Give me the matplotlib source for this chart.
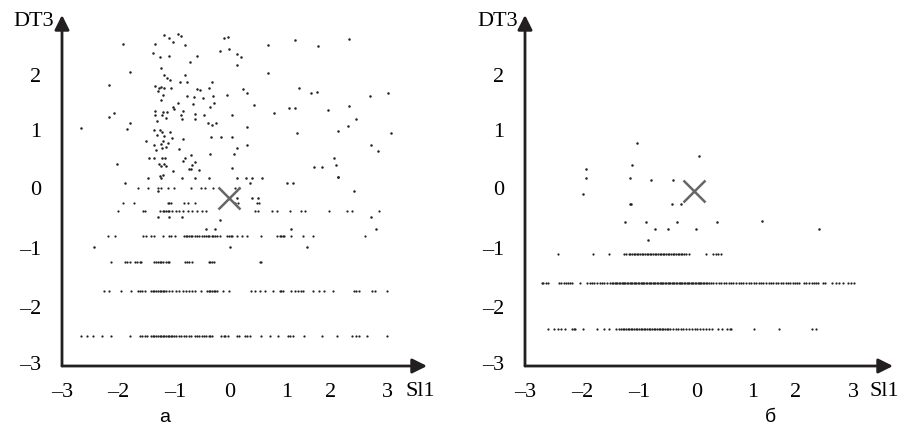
import matplotlib.pyplot as plt

# --- panel a: horizontal rows of points (DT3 level -> Sl1 values) ---
a_row_levels = [-2.48, -1.71, -1.21, -0.76, -0.33, -0.19, 0.07]
a_row_x = [
    [-2.72, -2.61, -2.50, -2.33, -2.15, -1.81, -1.62, -1.57, -1.53, -1.49, -1.41, -1.38,
     -1.35, -1.31, -1.28, -1.25, -1.22, -1.19, -1.16, -1.13, -1.10, -1.07, -1.04, -1.01,
     -0.98, -0.95, -0.88, -0.85, -0.79, -0.76, -0.70, -0.67, -0.59, -0.56, -0.52, -0.45,
     -0.42, -0.38, -0.33, -0.30, -0.27, -0.10, -0.05, -0.02, 0.03, 0.19, 0.24, 0.35,
     0.38, 0.44, 0.65, 0.81, 0.96, 1.15, 1.18, 1.24, 1.45, 1.79, 2.07, 2.34, 2.42, 2.47,
     2.62, 2.99],
    [-2.29, -2.19, -1.96, -1.78, -1.65, -1.61, -1.57, -1.53, -1.41, -1.38, -1.35, -1.31,
     -1.28, -1.25, -1.22, -1.19, -1.16, -1.13, -1.07, -1.01, -0.95, -0.88, -0.82, -0.76,
     -0.70, -0.64, -0.58, -0.48, -0.36, -0.33, -0.30, -0.27, -0.24, -0.21, -0.18, -0.06,
     0.04, 0.46, 0.53, 0.62, 0.71, 0.87, 0.99, 1.02, 1.05, 1.21, 1.27, 1.33, 1.39, 1.42,
     1.61, 1.73, 1.82, 1.98, 2.38, 2.42, 2.47, 2.71, 2.77, 2.99],
    [-2.15, -1.90, -1.86, -1.81, -1.71, -1.68, -1.62, -1.59, -1.35, -1.31, -1.28, -1.25,
     -1.22, -1.19, -1.13, -1.10, -1.07, -0.77, -0.73, -0.70, -0.65, -0.33, -0.30, -0.27,
     -0.24, 0.62, 0.65],
    [-2.21, -2.08, -1.56, -1.50, -1.41, -1.35, -1.19, -1.07, -1.04, -0.96, -0.79, -0.76,
     -0.73, -0.70, -0.67, -0.64, -0.59, -0.56, -0.52, -0.45, -0.42, -0.38, -0.34, -0.32,
     -0.28, -0.26, -0.22, -0.18, -0.12, 0.01, 0.04, 0.08, 0.10, 0.19, 0.28, 0.38, 0.65,
     0.95, 0.99, 1.02, 1.05, 1.08, 1.21, 1.42, 1.61, 2.59],
    [-2.02, -1.56, -1.53, -1.25, -1.19, -1.16, -1.13, -1.10, -1.07, -1.01, -0.95, -0.88,
     -0.82, -0.71, -0.64, -0.55, -0.45, -0.38, 0.54, 0.59, 0.85, 0.95, 1.18, 1.38, 1.47,
     1.91, 2.25, 2.34, 2.85],
    [-1.94, -1.73, -1.10, -1.07, -1.04, -0.79, -0.71, -0.59, 0.16, 0.22, 0.56, 0.60],
    [-1.65, -1.47, -1.28, -1.22, -1.09, -0.98, -0.67, -0.47, -0.40, -0.26, 0.16, 0.24],
]

# --- panel a: scattered points ---
a_x = [-2.47, 0.07, 1.50, -0.39, -0.21, 1.21, 2.79, -0.13, -1.28, -1.07, -0.84, 2.70,
       0.19, 0.48, 0.58, -1.28, 2.38, -1.89, 0.44, 1.13, 1.24,
       -1.47, -1.22, -0.84, -0.59, -0.33, 0.19, 0.36, 0.48, 0.67, 2.08,
       -2.72, -2.20, -2.20, -2.10, -1.94, -1.80, -1.81, -1.86, -2.04, -1.51,
       -1.38, -1.34, -1.24, -1.23, -1.16, -1.16, -1.12, -1.07, -1.07, -1.05, -1.00, -0.90,
       -0.85, -0.78, -0.69, -0.55, -0.86, -0.78, -0.73, -0.27, -1.34, -1.26, -1.22, -1.17,
       -1.28, -1.19, -1.22, -1.03, -0.90, -0.73, -0.61, -0.56, -0.50, -0.43, -0.32, -0.26,
       -0.24, -0.30, -0.63, -1.00, -0.98, -0.81, -0.85, -0.84, -1.34, -1.19, -1.12, -1.33,
       -1.20, -1.13, -1.30, -0.59, -0.58, -0.42, -0.34, -0.28, -0.20, 0.10, 0.01, -1.35,
       -1.24, -1.21, -1.06, -1.29, -1.16, -1.18, -1.01, -1.09, -1.23, -1.35, -1.31, -1.20,
       -1.13, -0.89, -0.81, -0.29, -0.10, 0.10, 0.38, 0.38, 0.19, 0.13, -0.31, -0.66, -0.78,
       -0.81, -0.59, -0.64, -0.70, -0.66, -0.51, -1.00, -1.45, -1.36, -1.20, -1.14, -1.26,
       -1.16, -1.22, -1.13, -1.19, -1.24, 0.10, 0.19, 0.27, 0.19, -0.12, -0.05, 0.03, 0.05,
       0.31, 0.39, 0.52, 0.78, 0.78, 0.89, 1.28, 1.35, 1.16, 1.28, 1.32, 1.58, 1.69, 1.70,
       1.89, 2.28, 2.28, 2.26, 2.08, 2.42, 2.68, 3.02, 3.06, 2.69, 2.82, 2.01, 2.04, 1.64,
       1.79, 2.08]
a_y = [-0.95, -0.95, -0.95, -0.64, -0.64, -0.64, -0.64, -0.48, -0.43, -0.43, -0.43, -0.43,
       -0.10, -0.10, -0.10, 0.02, 0.02, 0.16, 0.16, 0.16, 0.16,
       0.24, 0.24, 0.24, 0.24, 0.24, 0.24, 0.24, 0.24, 0.24, 0.26,
       1.10, 1.85, 1.30, 1.36, 2.55, 2.07, 1.18, 1.08, 0.48, 0.88,
       2.39, 2.55, 2.33, 2.13, 2.70, 2.01, 1.97, 2.66, 2.34, 1.93, 2.59, 2.73,
       2.69, 2.53, 2.24, 2.34, 1.90, 2.01, 1.89, 1.90, 1.83, 1.79, 1.81, 1.79,
       1.74, 1.67, 1.58, 1.79, 1.54, 1.66, 1.64, 1.77, 1.76, 1.62, 1.79, 1.66,
       1.53, 1.46, 1.51, 1.47, 1.43, 1.40, 1.33, 1.25, 1.39, 1.38, 1.38, 1.32,
       1.32, 1.27, 1.22, 1.34, 1.25, 1.32, 1.18, 1.16, 1.18, 1.32, 1.67, 1.06,
       1.06, 1.04, 1.04, 0.99, 0.97, 0.88, 0.93, 0.85, 0.82, 0.81, 0.72, 0.76,
       0.78, 0.74, 0.91, 0.94, 0.94, 0.94, 1.12, 0.81, 0.76, 0.65, 0.65, 0.64, 0.59,
       0.53, 0.51, 0.47, 0.39, 0.39, 0.37, 0.36, 0.58, 0.58, 0.58, 0.58, 0.49,
       0.49, 0.45, 0.45, 0.29, 0.28, 0.42, 2.37, 2.32, 2.18, 2.43, 2.66, 2.67, 2.46,
       1.77, 1.70, 1.50, 2.53, 2.05, 1.36, 2.62, 1.80, 1.44, 1.45, 1.01, 1.70, 1.73, 2.52,
       1.41, 2.63, 1.48, 1.14, 1.05, 1.26, 1.66, 1.71, 1.02, 0.81, 0.71, 0.58, 0.47, 0.43,
       0.43, 0.26]

# --- panel b: horizontal rows ---
b_row_levels = [-2.37, -1.57, -1.07]
b_row_x = [
    [-2.63, -2.52, -2.44, -2.39, -2.32, -2.18, -2.15, -2.12, -1.98, -1.73, -1.59, -1.51,
     -1.37, -1.31, -1.28, -1.25, -1.22, -1.19, -1.16, -1.13, -1.10, -1.07, -1.04, -1.01,
     -0.98, -0.95, -0.92, -0.89, -0.86, -0.83, -0.80, -0.77, -0.74, -0.71, -0.68, -0.65,
     -0.62, -0.59, -0.56, -0.53, -0.50, -0.47, -0.44, -0.41, -0.38, -0.32, -0.27, -0.23,
     -0.18, -0.14, -0.09, -0.03, 0.03, 0.08, 0.12, 0.17, 0.23, 0.29, 0.34, 0.40, 0.50,
     0.58, 0.67, 0.73, 0.75, 1.17, 1.63, 2.23, 2.31],
    [-2.74, -2.71, -2.66, -2.62, -2.42, -2.39, -2.34, -2.30, -2.26, -2.22, -2.18, -2.04,
     -1.90, -1.85, -1.81, -1.77, -1.72, -1.67, -1.63, -1.59, -1.54, -1.49,
     -1.45, -1.42, -1.40, -1.37, -1.35, -1.32, -1.30, -1.27, -1.25, -1.22, -1.20, -1.17,
     -1.15, -1.12, -1.10, -1.07, -1.05, -1.02, -1.00, -0.97, -0.95, -0.92, -0.90, -0.87,
     -0.85, -0.82, -0.80, -0.77, -0.75, -0.72, -0.70, -0.67, -0.65, -0.62, -0.60, -0.57,
     -0.55, -0.52, -0.50, -0.47, -0.45, -0.42, -0.40, -0.37, -0.35, -0.32, -0.30, -0.27,
     -0.25, -0.22, -0.20, -0.17, -0.15, -0.12, -0.10, -0.07, -0.05, -0.02, 0.00, 0.03,
     0.05, 0.08, 0.10, 0.13, 0.15, 0.18, 0.20, 0.23, 0.25, 0.28, 0.30,
     0.34, 0.38, 0.42, 0.47, 0.52, 0.56, 0.61, 0.66, 0.71, 0.75, 0.79, 0.84, 0.89, 0.93,
     0.97, 1.02, 1.07, 1.11, 1.16, 1.20, 1.27, 1.30, 1.34, 1.39, 1.45, 1.48, 1.52, 1.57,
     1.62, 1.66, 1.70, 1.75, 1.80, 1.84, 1.88, 1.92, 1.97, 2.00, 2.09, 2.13, 2.18, 2.23,
     2.27, 2.31, 2.35, 2.44, 2.48, 2.61, 2.68, 2.73, 2.80, 2.91, 2.96, 3.02],
    [-2.45, -1.79, -1.51, -1.22, -1.18, -1.14, -1.11, -1.08, -1.05, -1.02, -0.99, -0.96,
     -0.93, -0.90, -0.87, -0.84, -0.81, -0.78, -0.75, -0.72, -0.69, -0.66, -0.63, -0.60,
     -0.57, -0.54, -0.51, -0.48, -0.45, -0.42, -0.39, -0.36, -0.33, -0.30, -0.27, -0.24,
     -0.21, -0.18, -0.15, -0.12, -0.09, -0.03, 0.29, 0.41, 0.46, 0.50, 0.56],
]

# --- panel b: scattered points ---
b_x = [-0.98, 0.16, -1.92, -1.08, -1.93, -1.11, -0.73, -0.33, -1.99, -1.11, -1.09, -0.34,
       -0.18, -1.21, -0.82, -0.25, 0.49, 1.31, -0.65, -0.42, 0.10, 2.36, -0.79]
b_y = [0.85, 0.62, 0.39, 0.47, 0.24, 0.24, 0.20, 0.20, -0.04, -0.20, -0.20, -0.20,
       -0.20, -0.51, -0.51, -0.51, -0.51, -0.50, -0.64, -0.64, -0.64, -0.63, -0.82]

# centroid crosses
a_center = (0.04, -0.10)
b_center = (0.07, 0.02)

tick_labels = ['–3', '–2', '–1', '0', '1', '2', '3']
a_xtick_pos = [-3.07, -2.02, -0.95, 0.06, 1.13, 1.95, 3.0]
b_xtick_pos = [-3.05, -1.99, -0.95, 0.11, 1.15, 1.94, 3.0]
ytick_labels = ['–3', '–2', '–1', '0', '1', '2']
ytick_pos = [-2.95, -1.98, -0.97, 0.07, 1.07, 2.02]

W, H = 904, 429
fig = plt.figure(figsize=(W / 100, H / 100), dpi=100)
serif = 'Liberation Serif'
axcol = '#231f20'


def make_panel(left, right, x_lo, x_hi, rows_lv, rows_x, sx, sy, center, xticks):
    ax = fig.add_axes([left / W, (H - 366) / H, (right - left) / W, (366 - 15) / H])
    ax.set_xlim(x_lo, x_hi)
    ax.set_ylim(-3, 3.05)
    for s in ax.spines.values():
        s.set_visible(False)
    for lv, xs in zip(rows_lv, rows_x):
        ax.plot(xs, [lv] * len(xs), 'o', ms=1.6, color='#222222', mew=0)
    ax.plot(sx, sy, 'o', ms=1.8, color='#222222', mew=0)
    ax.plot(*center, 'x', ms=16, mew=1.8, color='#666666')
    # axes with arrows
    ax.annotate('', xy=(0, 1), xytext=(0, 0), xycoords='axes fraction',
                arrowprops=dict(arrowstyle='-|>', color=axcol, lw=2, mutation_scale=22,
                                shrinkA=0, shrinkB=0))
    ax.annotate('', xy=(1, 0), xytext=(0, 0), xycoords='axes fraction',
                arrowprops=dict(arrowstyle='-|>', color=axcol, lw=2, mutation_scale=22,
                                shrinkA=0, shrinkB=0))
    ax.set_xticks(xticks, tick_labels, fontfamily=serif, fontsize=16)
    ax.set_yticks(ytick_pos, ytick_labels, fontfamily=serif, fontsize=16)
    ax.tick_params(length=0, pad=12)
    ax.tick_params(axis='y', pad=15)
    return ax


make_panel(62, 427, -3, 3.74, a_row_levels, a_row_x, a_x, a_y, a_center, a_xtick_pos)
make_panel(525, 893, -3, 3.73, b_row_levels, b_row_x, b_x, b_y, b_center, b_xtick_pos)

for x0, y0, t in [(54, 22, 'DT3'), (518, 22, 'DT3')]:
    fig.text(x0 / W, 1 - y0 / H, t, ha='right', va='center', fontfamily=serif, fontsize=16)
for x0, t in [(406, 'Sl1'), (870, 'Sl1')]:
    fig.text(x0 / W, 1 - 392 / H, t, ha='left', va='center', fontfamily=serif, fontsize=16)
fig.text(165 / W, 1 - 418 / H, 'а', ha='center', va='center', fontfamily='Liberation Sans', fontsize=14)
fig.text(770 / W, 1 - 418 / H, 'б', ha='center', va='center', fontfamily='Liberation Sans', fontsize=14)

fig.savefig('out.png', dpi=100, facecolor='white')
